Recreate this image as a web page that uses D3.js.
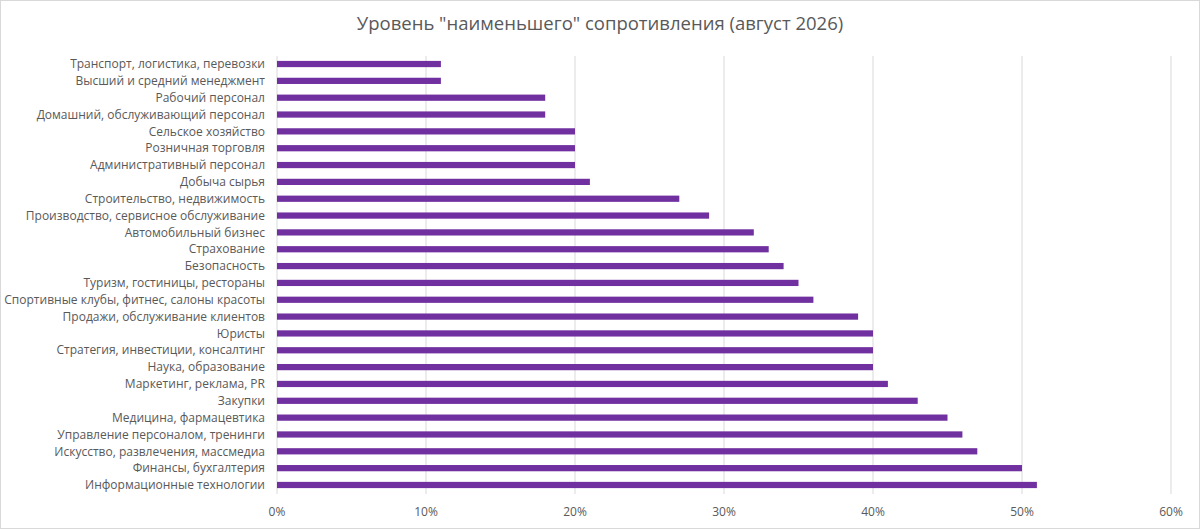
<!DOCTYPE html>
<html>
<head>
<meta charset="utf-8">
<script src="https://cdn.jsdelivr.net/npm/d3@7"></script>
<style>
  body { margin: 0; background: #fff; }
  text { font-family: "Open Sans", "Noto Sans", sans-serif; fill: #595959; }
</style>
</head>
<body>
<div id="chart"></div>
<script>
const categories = [
  "Транспорт, логистика, перевозки",
  "Высший и средний менеджмент",
  "Рабочий персонал",
  "Домашний, обслуживающий персонал",
  "Сельское хозяйство",
  "Розничная торговля",
  "Административный персонал",
  "Добыча сырья",
  "Строительство, недвижимость",
  "Производство, сервисное обслуживание",
  "Автомобильный бизнес",
  "Страхование",
  "Безопасность",
  "Туризм, гостиницы, рестораны",
  "Спортивные клубы, фитнес, салоны красоты",
  "Продажи, обслуживание клиентов",
  "Юристы",
  "Стратегия, инвестиции, консалтинг",
  "Наука, образование",
  "Маркетинг, реклама, PR",
  "Закупки",
  "Медицина, фармацевтика",
  "Управление персоналом, тренинги",
  "Искусство, развлечения, массмедиа",
  "Финансы, бухгалтерия",
  "Информационные технологии"
];
const values = [0.11, 0.11, 0.18, 0.18, 0.20, 0.20, 0.20, 0.21, 0.27, 0.29, 0.32, 0.33, 0.34,
  0.35, 0.36, 0.39, 0.40, 0.40, 0.40, 0.41, 0.43, 0.45, 0.46, 0.47, 0.50, 0.51];
const ticks = [0, 0.1, 0.2, 0.3, 0.4, 0.5, 0.6];
const title = 'Уровень "наименьшего" сопротивления (август 2026)';

const W = 1200, H = 529;
const svg = d3.select("#chart").append("svg").attr("width", W).attr("height", H);

svg.append("rect").attr("x", 0.5).attr("y", 0.5).attr("width", W - 1).attr("height", H - 1)
  .attr("fill", "#fff").attr("stroke", "#d9d9d9");

const x = d3.scaleLinear().domain([0, 0.6]).range([277, 1171]);
const y = d3.scaleBand().domain(categories).range([55.6, 493.4]).paddingInner(0.63).paddingOuter(0.315);

svg.append("g").selectAll("line").data(ticks).join("line")
  .attr("x1", d => x(d)).attr("x2", d => x(d))
  .attr("y1", 56).attr("y2", 494)
  .attr("stroke", "#d9d9d9").attr("stroke-width", 1);

svg.append("g").selectAll("rect").data(categories).join("rect")
  .attr("x", x(0))
  .attr("y", d => y(d))
  .attr("width", (d, i) => x(values[i]) - x(0))
  .attr("height", y.bandwidth())
  .attr("fill", "#7030a0");

svg.append("g").selectAll("text").data(categories).join("text")
  .attr("x", 265)
  .attr("y", d => y(d) + y.bandwidth() / 2)
  .attr("dy", "0.35em")
  .attr("text-anchor", "end")
  .attr("font-size", 12)
  .text(d => d);

svg.append("g").selectAll("text").data(ticks).join("text")
  .attr("x", d => x(d))
  .attr("y", 516)
  .attr("text-anchor", "middle")
  .attr("font-size", 12)
  .text(d => d3.format(".0%")(d));

svg.append("text").attr("x", W / 2).attr("y", 30)
  .attr("text-anchor", "middle").attr("font-size", 18.5)
  .text(title);
</script>
</body>
</html>
